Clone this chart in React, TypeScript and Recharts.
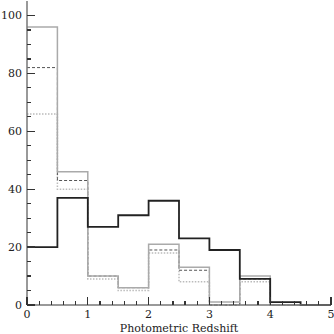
import React from 'react';
import { LineChart, Line, XAxis, YAxis, Label } from 'recharts';

const binEdges = [0, 0.5, 1, 1.5, 2, 2.5, 3, 3.5, 4, 4.5, 5];
const thickSeries = [20, 37, 27, 31, 36, 23, 19, 9, 1, 0];
const thinSeries = [96, 46, 10, 6, 21, 13, 1, 10, 0, 0];
const dashedSeries = [82, 43, 10, 6, 19, 12, 0, 9, 0, 0];
const dottedSeries = [66, 40, 9, 5, 18, 8, 0, 8, 0, 0];

const xTicks = [0, 0.2, 0.4, 0.6, 0.8, 1, 1.2, 1.4, 1.6, 1.8, 2, 2.2, 2.4, 2.6, 2.8, 3, 3.2, 3.4, 3.6, 3.8, 4, 4.2, 4.4, 4.6, 4.8, 5];
const yTicks = [0, 5, 10, 15, 20, 25, 30, 35, 40, 45, 50, 55, 60, 65, 70, 75, 80, 85, 90, 95, 100];
const xLabel = 'Photometric Redshift';

const pick = (arr: number[], i: number) => arr[Math.min(i, arr.length - 1)];
const data = binEdges.map((x, i) => ({
  x,
  thick: pick(thickSeries, i),
  thin: pick(thinSeries, i),
  dashed: pick(dashedSeries, i),
  dotted: pick(dottedSeries, i),
}));

const FONT = '"DejaVu Serif", serif';
const TICK = '#333';

const isMajorX = (v: number) => Math.abs(v - Math.round(v)) < 1e-6;
const isMajorY = (v: number) => v % 20 === 0;

const BottomTick = (props: any) => {
  const x = Number(props.x);
  const y = Number(props.y);
  const v = Number(props.payload.value);
  const major = isMajorX(v);
  return (
    <g>
      <line x1={x} x2={x} y1={y} y2={y - (major ? 8 : 4)} stroke={TICK} strokeWidth={1.2} shapeRendering="crispEdges" />
      {major ? (
        <text x={x} y={y + 13} textAnchor="middle" fontFamily={FONT} fontSize={11} fill="#222">
          {Math.round(v)}
        </text>
      ) : null}
    </g>
  );
};

const TopTick = (props: any) => {
  const x = Number(props.x);
  const y = Number(props.y);
  const major = isMajorX(Number(props.payload.value));
  return <line x1={x} x2={x} y1={y} y2={y + (major ? 8 : 4)} stroke={TICK} strokeWidth={1.2} shapeRendering="crispEdges" />;
};

const LeftTick = (props: any) => {
  const x = Number(props.x);
  const y = Number(props.y);
  const v = Number(props.payload.value);
  const major = isMajorY(v);
  return (
    <g>
      <line x1={x} x2={x + (major ? 8 : 4)} y1={y} y2={y} stroke={TICK} strokeWidth={1.2} shapeRendering="crispEdges" />
      {major ? (
        <text x={x - 5} y={y + 4} textAnchor="end" fontFamily={FONT} fontSize={11} fill="#222">
          {v}
        </text>
      ) : null}
    </g>
  );
};

const RightTick = (props: any) => {
  const x = Number(props.x);
  const y = Number(props.y);
  const major = isMajorY(Number(props.payload.value));
  return <line x1={x} x2={x - (major ? 8 : 4)} y1={y} y2={y} stroke={TICK} strokeWidth={1.2} shapeRendering="crispEdges" />;
};

export default function App() {
  return (
    <div style={{ position: 'absolute', left: 0, top: 0, width: 334, height: 334, background: '#fff' }}>
      <LineChart width={334} height={334} data={data} margin={{ top: 1, right: 3, left: 0, bottom: 0 }}>
        <XAxis
          dataKey="x"
          type="number"
          domain={[0, 5]}
          ticks={xTicks}
          interval={0}
          tickSize={0}
          tickMargin={0}
          tickLine={false}
          tick={<BottomTick />}
          height={29}
          axisLine={{ stroke: '#777', strokeWidth: 1.5 }}
        >
          <Label value={xLabel} position="insideBottom" offset={2} style={{ fontFamily: FONT, fontSize: 11, fill: '#222' }} />
        </XAxis>
        <XAxis
          xAxisId="top"
          orientation="top"
          dataKey="x"
          type="number"
          domain={[0, 5]}
          ticks={xTicks}
          interval={0}
          tickSize={0}
          tickMargin={0}
          tickLine={false}
          tick={<TopTick />}
          height={0}
          axisLine={{ stroke: '#999', strokeWidth: 1.5 }}
        />
        <YAxis
          type="number"
          domain={[0, 105]}
          ticks={yTicks}
          interval={0}
          tickSize={0}
          tickMargin={0}
          tickLine={false}
          tick={<LeftTick />}
          width={27}
          axisLine={{ stroke: '#777', strokeWidth: 1.5 }}
        />
        <YAxis
          yAxisId="right"
          orientation="right"
          type="number"
          domain={[0, 105]}
          ticks={yTicks}
          interval={0}
          tickSize={0}
          tickMargin={0}
          tickLine={false}
          tick={<RightTick />}
          width={0}
          axisLine={{ stroke: '#777', strokeWidth: 2 }}
        />
        <Line type="stepAfter" dataKey="dotted" stroke="#bbb" strokeWidth={1.5} strokeDasharray="1.5 1.5" dot={false} isAnimationActive={false} />
        <Line type="stepAfter" dataKey="dashed" stroke="#555" strokeWidth={1} strokeDasharray="3 2" dot={false} isAnimationActive={false} />
        <Line type="stepAfter" dataKey="thin" stroke="#aaa" strokeWidth={1.5} dot={false} isAnimationActive={false} />
        <Line type="stepAfter" dataKey="thick" stroke="#222" strokeWidth={1.8} dot={false} isAnimationActive={false} />
      </LineChart>
    </div>
  );
}
